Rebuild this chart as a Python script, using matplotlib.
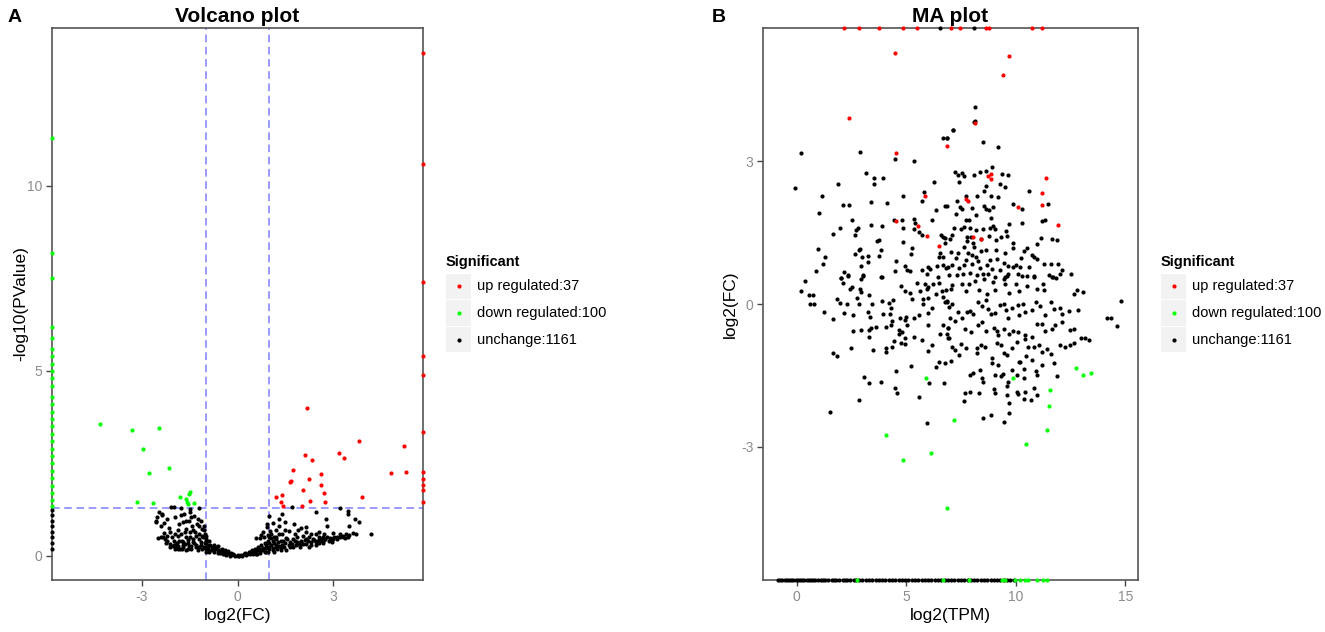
import numpy as np
import matplotlib
matplotlib.use('Agg')
import matplotlib.pyplot as plt
from matplotlib.patches import Rectangle

plt.rcParams['font.family'] = ['Liberation Sans', 'DejaVu Sans']
plt.rcParams['axes.unicode_minus'] = False

# ---- volcano plot data: (log2FC, -log10 PValue) ----
volcano_up = [(2.18, 4.0), (3.79, 3.12), (5.22, 2.98), (3.17, 2.79), (3.32, 2.65),
              (2.10, 2.74), (2.33, 2.58), (1.73, 2.32), (2.60, 2.22), (4.80, 2.25),
              (5.28, 2.27), (1.65, 2.01), (1.67, 2.03), (2.23, 2.09), (2.61, 1.91),
              (2.05, 1.77), (2.69, 1.69), (1.21, 1.60), (1.40, 1.64), (1.35, 1.46),
              (1.43, 1.35), (2.27, 1.48), (2.73, 1.46), (2.03, 1.36), (3.90, 1.59),
              (5.8, 13.6), (5.8, 10.6), (5.8, 7.4), (5.8, 5.4), (5.8, 4.9),
              (5.8, 3.35), (5.8, 2.27), (5.8, 2.08), (5.8, 1.92), (5.8, 1.78), (5.8, 1.46)]
volcano_down = [(-4.31, 3.57), (-3.29, 3.41), (-2.44, 3.45), (-2.96, 2.90), (-2.77, 2.23),
                (-2.15, 2.38), (-3.15, 1.46), (-2.65, 1.44), (-1.81, 1.59), (-1.52, 1.68),
                (-1.47, 1.72), (-1.60, 1.55), (-1.55, 1.41), (-1.35, 1.44), (-1.58, 1.45),
                (-5.8, 11.3), (-5.8, 8.2), (-5.8, 7.5), (-5.8, 6.2), (-5.8, 5.9), (-5.8, 5.6),
                (-5.8, 5.4), (-5.8, 5.2), (-5.8, 5.0), (-5.8, 4.8), (-5.8, 4.6), (-5.8, 4.3),
                (-5.8, 4.1), (-5.8, 3.9), (-5.8, 3.7), (-5.8, 3.5), (-5.8, 3.3), (-5.8, 3.1),
                (-5.8, 2.9), (-5.8, 2.7), (-5.8, 2.5), (-5.8, 2.3), (-5.8, 2.1), (-5.8, 1.9),
                (-5.8, 1.7), (-5.8, 1.5), (-5.8, 1.35)]
volcano_none = [(-2.07, 1.31), (-1.97, 1.31), (-1.76, 1.29), (-1.48, 1.27), (-1.21, 1.29),
                (-2.52, 1.04), (-2.35, 1.13), (-2.56, 0.93), (-2.21, 1.00), (-1.94, 1.04),
                (-1.76, 1.11), (-1.66, 1.13), (-1.50, 1.18), (-1.35, 1.09), (-1.83, 0.86),
                (-1.71, 0.91), (-1.52, 0.95), (-1.42, 0.82), (-1.27, 0.86), (-1.60, 0.73),
                (-1.34, 0.64), (-1.19, 0.82), (-1.10, 0.73), (-1.76, 0.59), (-1.48, 0.50),
                (-2.33, 0.50), (-2.28, 0.46), (-2.00, 0.41), (-1.83, 0.41), (-1.69, 0.39),
                (-1.55, 0.43), (-1.40, 0.37), (-1.21, 0.46), (-1.08, 0.50), (-1.86, 0.28),
                (-2.02, 0.28), (-1.92, 0.21), (-1.71, 0.25), (-1.52, 0.28), (-1.31, 0.23),
                (-1.14, 0.30), (-1.03, 0.59), (-0.98, 0.46), (-0.98, 0.34), (-0.93, 0.23),
                (-0.88, 0.12), (-0.77, 0.21), (-0.72, 0.10), (-0.61, 0.16), (-0.56, 0.07),
                (-0.46, 0.05), (-0.35, 0.03), (-0.25, 0.01), (-0.09, 0.0), (0.01, 0.0),
                (0.15, 0.01), (0.27, 0.03), (0.38, 0.05), (0.48, 0.06), (0.58, 0.10),
                (0.69, 0.14), (0.79, 0.16), (0.90, 0.21), (0.98, 0.25), (1.05, 0.30),
                (1.13, 0.34), (1.26, 0.37), (0.69, 0.48), (0.58, 0.48), (0.74, 0.57),
                (0.84, 0.50), (0.95, 0.57), (1.02, 0.68), (0.92, 0.77), (0.79, 0.66),
                (1.00, 1.09), (0.92, 0.86), (1.06, 0.48), (1.21, 0.52), (1.31, 0.59),
                (1.29, 1.00), (1.40, 1.13), (1.50, 0.93), (1.60, 0.68), (1.71, 1.31),
                (1.78, 0.86), (1.42, 0.41), (1.52, 0.48), (1.63, 0.39), (1.73, 0.46),
                (1.85, 0.50), (1.99, 0.41), (2.06, 0.55), (2.15, 0.66), (2.13, 0.79),
                (2.25, 0.50), (2.35, 0.46), (2.44, 1.20), (2.46, 0.59), (2.56, 0.50),
                (2.67, 0.52), (2.79, 0.82), (2.77, 1.00), (2.88, 0.48), (3.03, 0.50),
                (3.19, 1.29), (3.21, 0.50), (3.29, 0.55), (3.45, 1.13), (3.48, 0.82),
                (3.66, 1.01), (3.81, 0.91), (4.17, 0.60), (3.47, 1.22), (1.83, 0.30),
                (2.15, 0.32), (2.56, 0.34), (1.21, 0.25), (1.36, 0.21), (1.63, 0.23),
                (1.94, 0.23), (2.25, 0.25), (2.46, 0.30), (2.67, 0.34), (2.94, 0.37),
                (1.10, 0.16), (1.52, 0.16), (0.90, 0.12), (0.58, 0.05), (-2.54, 0.94),
                (-2.35, 1.10), (-2.49, 0.48), (-2.39, 0.52), (-2.10, 0.32), (-1.96, 0.20),
                (-0.90, 0.15), (-0.80, 0.25), (-0.70, 0.18), (-0.60, 0.08), (-0.50, 0.12),
                (-0.40, 0.06), (-0.30, 0.08), (-0.20, 0.03), (-0.10, 0.02), (0.05, 0.01),
                (0.10, 0.03), (0.20, 0.05), (0.30, 0.06), (0.40, 0.10), (0.50, 0.12),
                (0.60, 0.15), (0.70, 0.20), (0.80, 0.22), (0.90, 0.30), (1.00, 0.35),
                (1.10, 0.22), (1.20, 0.30), (1.30, 0.28), (1.40, 0.30), (1.50, 0.35),
                (1.60, 0.30), (1.70, 0.33), (1.80, 0.40), (1.90, 0.35), (2.00, 0.38),
                (2.10, 0.42), (2.20, 0.40), (2.30, 0.38), (2.40, 0.43), (2.50, 0.40),
                (2.60, 0.45), (2.70, 0.42), (2.80, 0.50), (3.00, 0.47), (3.10, 0.52),
                (3.30, 0.52), (3.40, 0.58), (3.50, 0.57), (3.60, 0.62), (3.70, 0.60),
                (-1.00, 0.40), (-1.05, 0.70), (-1.10, 0.55), (-1.15, 0.38), (-1.20, 0.25),
                (-1.30, 0.30), (-1.40, 0.45), (-1.45, 0.28), (-1.55, 0.35), (-1.60, 0.50),
                (-1.65, 0.32), (-1.75, 0.40), (-1.80, 0.20), (-1.85, 0.55), (-1.90, 0.35),
                (-2.00, 0.30), (-2.05, 0.50), (-2.10, 0.65), (-2.20, 0.40), (-2.30, 0.62),
                (-2.40, 0.80),
                (-1.00, 0.10), (-1.00, 0.20), (-0.95, 0.30), (-1.02, 0.35), (-0.97, 0.55),
                (-1.05, 0.80), (-0.90, 0.40), (-0.85, 0.30), (-0.80, 0.15), (-0.75, 0.30),
                (-0.70, 0.25), (-0.65, 0.20), (-0.60, 0.28), (-0.55, 0.15), (-0.50, 0.20),
                (-0.45, 0.12), (-0.40, 0.15), (-0.35, 0.10), (-0.30, 0.13), (-0.20, 0.08),
                (-0.15, 0.05), (0.00, 0.03), (0.25, 0.08), (0.35, 0.12), (0.45, 0.15),
                (0.55, 0.20), (0.65, 0.25), (0.75, 0.30), (0.85, 0.35), (0.95, 0.40),
                (1.00, 0.50), (1.05, 0.60), (1.00, 0.20), (0.95, 0.10), (1.10, 0.40),
                (1.15, 0.50), (1.20, 0.45), (1.25, 0.20), (1.35, 0.40), (1.45, 0.25),
                (1.55, 0.45), (1.65, 0.30), (1.75, 0.25), (1.85, 0.38), (1.95, 0.30),
                (2.05, 0.33), (2.15, 0.45), (2.30, 0.30), (2.45, 0.38), (2.55, 0.42),
                (2.65, 0.40), (2.75, 0.45), (2.85, 0.40), (2.95, 0.45), (3.10, 0.45),
                (3.20, 0.60), (3.35, 0.48), (3.45, 0.50), (1.80, 0.60), (1.90, 0.70),
                (2.00, 0.75), (2.30, 0.60), (2.55, 0.65), (2.70, 0.60), (3.00, 0.62),
                (1.40, 0.60), (1.50, 0.70), (1.30, 0.80), (1.20, 0.70), (1.10, 0.90),
                (1.35, 0.15), (1.15, 0.12), (0.85, 0.10), (0.70, 0.07), (0.60, 0.04),
                (-1.25, 0.15), (-1.35, 0.35), (-1.45, 0.20), (-1.55, 0.20), (-1.60, 0.15),
                (-1.70, 0.30), (-1.75, 0.20), (-1.85, 0.18), (-1.95, 0.30), (-2.10, 0.25),
                (-2.20, 0.55), (-2.25, 0.35), (-2.15, 0.75), (-1.95, 0.60), (-1.85, 0.70),
                (-1.65, 0.65), (-1.50, 0.65), (-1.40, 0.70), (-1.30, 0.55), (-1.20, 0.60),
                (-1.15, 0.95), (-1.25, 1.00), (-1.45, 1.05), (-1.60, 0.95), (-2.30, 0.90),
                (-2.45, 1.20), (-1.10, 0.20), (-1.05, 0.25),
                (-5.8, 1.25), (-5.8, 1.1), (-5.8, 0.95), (-5.8, 0.8), (-5.8, 0.65),
                (-5.8, 0.5), (-5.8, 0.35), (-5.8, 0.2)]

# ---- MA plot data: (log2 TPM, log2 FC) ----
ma_up = [(4.49, 5.27), (9.71, 5.22), (9.43, 4.81), (2.37, 3.90), (8.16, 3.80),
         (6.86, 3.32), (4.52, 3.17), (11.38, 2.64), (8.72, 2.69), (8.87, 2.74),
         (8.86, 2.62), (11.20, 2.34), (5.87, 2.28), (7.73, 2.20), (7.82, 2.17),
         (10.12, 2.03), (11.20, 2.07), (4.53, 1.75), (5.52, 1.64), (11.95, 1.65),
         (5.95, 1.43), (8.03, 1.40), (8.41, 1.36), (6.50, 1.22),
         (2.17, 5.8), (2.83, 5.8), (3.76, 5.8), (4.87, 5.8), (5.48, 5.8), (7.03, 5.8),
         (7.46, 5.8), (8.63, 5.8), (8.80, 5.8), (10.73, 5.8), (11.19, 5.8)]
ma_down = [(12.74, -1.34), (13.06, -1.49), (13.42, -1.46), (5.90, -1.55), (9.86, -1.55),
           (11.57, -1.80), (11.51, -2.15), (7.18, -2.44), (11.44, -2.64), (4.09, -2.76),
           (10.47, -2.94), (6.13, -3.13), (4.84, -3.28), (6.86, -4.29),
           (2.74, -5.8), (6.70, -5.8), (7.88, -5.8), (9.36, -5.8), (9.51, -5.8),
           (9.97, -5.8), (10.20, -5.8), (10.42, -5.8), (10.58, -5.8), (10.96, -5.8),
           (11.26, -5.8), (11.42, -5.8)]
ma_none = [
    # upper left part
    (0.20, 3.17), (2.91, 3.19), (4.47, 3.05), (5.37, 3.00), (6.70, 3.48), (6.85, 3.48),
    (3.17, 2.76), (3.55, 2.65), (3.94, 2.64), (3.53, 2.52), (1.89, 2.52), (-0.06, 2.43),
    (6.27, 2.57), (5.80, 2.35), (5.72, 2.17), (4.87, 2.28), (1.16, 2.26), (3.39, 2.15),
    (4.12, 2.13), (2.13, 2.08), (2.39, 2.08), (6.79, 2.05), (6.35, 1.98), (1.02, 1.91),
    (2.54, 1.77), (4.43, 1.77), (4.81, 1.77), (5.34, 1.79), (5.40, 1.70), (6.18, 1.77),
    (1.99, 1.59), (2.71, 1.56), (2.79, 1.59), (3.38, 1.65), (3.87, 1.63), (4.87, 1.60),
    (5.34, 1.57), (5.60, 1.51), (5.71, 1.45), (1.66, 1.48), (2.66, 1.44), (6.59, 1.44),
    (6.70, 1.40), (3.65, 1.33), (3.76, 1.35), (6.76, 1.29), (0.99, 1.15), (2.82, 1.13),
    (2.89, 1.15), (3.85, 1.14), (4.87, 1.30), (5.27, 1.18), (5.22, 1.06), (2.66, 1.05),
    (2.98, 0.99), (3.27, 1.00), (3.74, 1.00), (1.29, 0.99), (6.56, 1.08), (6.68, 0.99),
    (6.51, 0.98), (1.22, 0.85), (3.24, 0.89), (4.55, 0.90), (2.92, 0.80), (4.92, 0.80),
    (5.04, 0.71), (5.19, 0.69), (5.71, 0.71), (6.01, 0.77), (6.07, 0.73), (6.42, 0.80),
    (6.68, 0.82), (0.87, 0.70), (2.16, 0.68), (2.01, 0.55), (2.33, 0.60), (3.01, 0.60),
    (3.87, 0.57), (4.47, 0.69), (5.94, 0.62), (6.44, 0.57), (6.83, 0.75),
    (8.16, 4.15), (8.13, 3.84), (7.15, 3.66),
    # upper right part
    (7.14, 3.66), (8.11, 3.82), (6.87, 3.49), (8.51, 3.40), (9.18, 3.29), (7.21, 2.77),
    (7.35, 2.71), (7.56, 2.76), (7.64, 2.69), (8.08, 2.71), (8.36, 2.78), (8.66, 2.79),
    (8.90, 2.87), (9.38, 2.73), (9.65, 2.72), (7.43, 2.56), (9.30, 2.52), (9.53, 2.45),
    (8.65, 2.48), (8.54, 2.38), (8.25, 2.28), (7.72, 2.28), (8.89, 2.26), (9.18, 2.24),
    (10.62, 2.38), (7.32, 2.17), (6.85, 2.05), (7.47, 2.03), (7.53, 2.00), (8.02, 2.01),
    (8.54, 2.06), (8.66, 2.00), (8.95, 2.03), (8.78, 1.97), (9.88, 2.10), (10.30, 2.00),
    (11.48, 2.10), (7.25, 1.90), (8.17, 1.87), (7.73, 1.76), (7.85, 1.76), (8.87, 1.81),
    (9.71, 1.69), (10.27, 1.71), (11.20, 1.74), (11.35, 1.76), (7.19, 1.59), (7.52, 1.57),
    (7.63, 1.61), (7.93, 1.60), (8.17, 1.55), (8.49, 1.58), (8.83, 1.60), (8.97, 1.64),
    (9.06, 1.57), (9.57, 1.53), (7.09, 1.45), (7.78, 1.40), (7.95, 1.41), (8.42, 1.36),
    (8.77, 1.43), (9.12, 1.35), (9.33, 1.41), (9.61, 1.43), (11.17, 1.39), (11.65, 1.37),
    (11.87, 1.35), (6.77, 1.38), (6.99, 1.36), (7.78, 1.33), (8.05, 1.29), (8.11, 1.20),
    (9.88, 1.29), (10.96, 1.27), (7.05, 1.10), (7.37, 1.08), (7.63, 1.20), (7.82, 1.08),
    (8.17, 0.99), (8.42, 1.11), (8.64, 1.14), (9.09, 1.14), (9.51, 1.07), (9.89, 1.17),
    (10.38, 1.11), (10.53, 1.18), (10.73, 1.04), (10.85, 0.99), (10.97, 0.95), (7.26, 0.96),
    (7.74, 0.92), (8.01, 1.03), (8.28, 0.90), (8.84, 0.92), (9.16, 0.94), (9.47, 0.87),
    (10.26, 0.96), (11.28, 0.85), (11.61, 0.84), (11.95, 0.84), (6.90, 0.78), (7.09, 0.83),
    (7.41, 0.76), (7.65, 0.83), (7.99, 0.84), (8.35, 0.75), (8.68, 0.81), (8.92, 0.74),
    (9.26, 0.71), (9.64, 0.80), (9.89, 0.78), (10.02, 0.81), (10.21, 0.78), (10.62, 0.78),
    (12.10, 0.71), (6.97, 0.61), (7.31, 0.60), (7.58, 0.63), (7.90, 0.65), (8.25, 0.61),
    (8.49, 0.63), (8.74, 0.64), (9.06, 0.57), (9.50, 0.57), (9.66, 0.62), (10.09, 0.62),
    (10.28, 0.59), (10.49, 0.59), (10.85, 0.59), (11.52, 0.60), (11.69, 0.57), (12.01, 0.64),
    (12.51, 0.62),
    # lower left part
    (0.40, 0.49), (0.18, 0.27), (0.75, 0.19), (0.79, -0.01), (1.23, -0.17), (1.67, -0.32),
    (2.01, 0.55), (2.13, 0.45), (2.33, 0.59), (2.44, 0.31), (2.53, 0.36), (2.92, 0.52),
    (3.01, 0.59), (3.85, 0.57), (2.89, 0.31), (2.95, 0.26), (1.84, 0.11), (1.98, 0.03),
    (2.30, -0.01), (2.73, 0.13), (2.83, 0.00), (3.29, 0.18), (3.44, 0.01), (2.16, -0.18),
    (2.56, -0.24), (3.26, -0.17), (3.35, -0.28), (3.90, 0.06), (4.19, 0.03), (4.41, 0.09),
    (4.31, -0.08), (3.96, -0.20), (4.28, -0.20), (4.76, 0.38), (4.93, 0.28), (5.18, 0.24),
    (5.25, 0.11), (5.48, 0.45), (5.65, 0.27), (5.84, 0.42), (5.97, 0.35), (5.94, 0.31),
    (6.20, 0.43), (6.36, 0.22), (6.50, 0.45), (6.61, 0.27), (6.82, 0.29), (6.68, 0.14),
    (6.85, 0.05), (5.78, 0.11), (5.97, 0.13), (5.75, -0.01), (6.18, -0.08), (5.97, -0.19),
    (5.60, -0.23), (5.36, -0.29), (4.98, -0.27), (4.95, -0.34), (4.72, -0.29), (4.34, -0.35),
    (4.29, -0.45), (4.08, -0.49), (3.61, -0.49), (3.38, -0.51), (3.32, -0.54), (2.59, -0.56),
    (2.95, -0.55), (3.29, -0.70), (4.66, -0.55), (4.81, -0.59), (4.67, -0.64), (5.05, -0.45),
    (5.34, -0.69), (4.96, -0.72), (5.72, -0.75), (5.97, -0.45), (6.70, -0.44), (6.89, -0.50),
    (6.55, -0.62), (6.88, -0.62), (6.89, -0.72), (4.46, -0.78), (4.76, -0.81), (4.93, -0.85),
    (2.47, -0.92), (3.50, -0.97), (4.09, -0.92), (4.37, -0.90), (4.06, -1.01), (6.16, -0.87),
    (6.01, -0.99), (1.64, -1.03), (1.84, -1.09), (5.21, -1.31), (4.52, -1.41), (6.35, -1.33),
    (6.50, -1.22), (6.76, -1.23), (3.09, -1.53), (3.30, -1.66), (3.85, -1.64), (4.49, -1.77),
    (4.58, -1.87), (6.03, -1.65), (6.71, -1.66), (5.58, -1.95), (2.82, -2.02), (1.54, -2.26),
    (5.94, -2.50), (0.55, 0.19), (0.59, 0.00),
    # lower right part
    (6.85, 0.07), (7.05, 0.31), (7.11, 0.40), (7.53, 0.43), (7.72, 0.28), (7.85, 0.41),
    (8.14, 0.48), (8.30, 0.29), (8.57, 0.52), (8.70, 0.22), (8.98, 0.47), (9.06, 0.30),
    (9.45, 0.52), (9.51, 0.43), (9.59, 0.59), (9.67, 0.23), (10.00, 0.41), (10.15, 0.27),
    (10.50, 0.38), (10.85, 0.57), (10.96, 0.31), (11.23, 0.43), (11.28, 0.29), (11.67, 0.57),
    (11.84, 0.54), (12.66, 0.22), (12.80, 0.30), (13.05, 0.25), (14.81, 0.06), (6.77, 0.05),
    (6.93, -0.06), (7.11, -0.01), (7.38, -0.17), (7.53, -0.30), (7.78, -0.17), (7.91, -0.15),
    (8.06, -0.22), (8.26, 0.05), (8.48, -0.04), (8.66, 0.08), (8.75, -0.10), (8.86, -0.22),
    (9.06, -0.18), (9.28, -0.02), (9.48, 0.01), (9.55, -0.13), (9.64, -0.29), (9.85, -0.09),
    (10.09, -0.03), (10.15, -0.23), (10.35, 0.00), (10.43, -0.16), (10.76, -0.13), (10.91, 0.05),
    (11.09, -0.04), (11.34, -0.23), (11.62, 0.05), (11.73, -0.11), (12.02, -0.09), (12.10, -0.20),
    (12.42, -0.15), (12.83, -0.12), (14.16, -0.29), (14.34, -0.29), (14.60, -0.47), (7.00, -0.29),
    (7.23, -0.36), (6.90, -0.50), (7.69, -0.52), (7.96, -0.58), (8.28, -0.44), (8.48, -0.37),
    (8.66, -0.57), (8.99, -0.50), (9.16, -0.57), (9.21, -0.65), (9.48, -0.52), (9.70, -0.64),
    (9.86, -0.57), (10.09, -0.59), (10.40, -0.65), (10.43, -0.73), (10.76, -0.70), (10.96, -0.41),
    (11.22, -0.43), (11.34, -0.57), (11.64, -0.52), (11.79, -0.44), (12.13, -0.37), (12.48, -0.55),
    (12.68, -0.53), (12.98, -0.71), (13.16, -0.71), (13.35, -0.75), (6.93, -0.71), (7.08, -0.90),
    (7.23, -0.97), (7.50, -0.85), (7.73, -0.93), (7.41, -1.07), (7.05, -1.20), (8.22, -0.93),
    (8.42, -0.86), (8.21, -1.04), (8.60, -0.90), (8.90, -1.13), (9.13, -0.83), (9.33, -0.87),
    (9.48, -1.03), (9.59, -1.08), (9.82, -0.92), (10.05, -0.79), (10.15, -1.22), (10.46, -1.10),
    (10.55, -0.90), (10.76, -1.17), (10.85, -0.90), (11.04, -0.87), (11.19, -1.01), (11.42, -0.94),
    (11.61, -1.06), (11.73, -1.24), (12.04, -0.86), (12.25, -0.90), (12.48, -0.87), (12.68, -0.83),
    (7.91, -1.49), (8.05, -1.46), (8.38, -1.39), (8.48, -1.55), (8.52, -1.64), (8.90, -1.24),
    (9.03, -1.49), (9.21, -1.28), (9.33, -1.52), (9.43, -1.48), (9.64, -1.63), (9.61, -1.72),
    (9.85, -1.38), (10.05, -1.49), (10.20, -1.22), (10.37, -1.56), (10.37, -1.36), (10.93, -1.41),
    (10.96, -1.49), (11.19, -1.29), (10.81, -1.76), (11.89, -1.51), (7.69, -1.86), (7.91, -1.84),
    (8.33, -1.87), (7.64, -2.03), (8.99, -1.78), (9.06, -1.87), (9.59, -1.92), (10.05, -1.85),
    (10.08, -1.89), (10.40, -1.85), (10.36, -1.99), (10.70, -2.01), (10.95, -1.92), (9.68, -2.09),
    (9.70, -2.29), (8.52, -2.40), (8.86, -2.34), (9.48, -2.47),
    # points pinned to the top edge
    (6.54, 5.8), (8.11, 5.8)]
ma_none_floor = [-0.85, -0.75, -0.65, -0.55, -0.45, -0.35, -0.25, -0.15, -0.05, 0.05,
                 0.15, 0.25, 0.35, 0.45, 0.55, 0.65, 0.75, 0.85, 0.95, 1.1, 1.2, 1.3,
                 1.45, 1.6, 1.7, 1.8, 1.95, 2.1, 2.2, 2.3, 2.45, 2.6, 2.7, 2.85, 3.0,
                 3.15, 3.3, 3.45, 3.6, 3.75, 3.9, 4.05, 4.2, 4.35, 4.5, 4.65, 4.8, 4.95,
                 5.1, 5.25, 5.4, 5.55, 5.7, 5.85, 6.0, 6.15, 6.3, 6.45, 6.6, 6.75, 6.9,
                 7.05, 7.2, 7.35, 7.5, 7.65, 7.8, 7.95, 8.1, 8.25, 8.4, 8.55, 8.7, 8.85,
                 9.0, 9.15, 9.3, 9.45, 9.6, 9.75, 9.9]

legend_labels = ['up regulated:37', 'down regulated:100', 'unchange:1161']
point_colors = ['#ff0000', '#00ff00', '#000000']

W, H = 1325, 632
fig = plt.figure(figsize=(W / 100, H / 100), dpi=100)


def frac(x0, y0, x1, y1):
    return [x0 / W, 1 - y1 / H, (x1 - x0) / W, (y1 - y0) / H]


def style_axes(ax):
    for s in ax.spines.values():
        s.set_color('#555555')
        s.set_linewidth(1.2)
    ax.tick_params(direction='out', length=4, width=1, color='#444444',
                   labelcolor='#8c8c8c', labelsize=10, pad=3)


def scatter_pts(ax, pts, color):
    arr = np.array(pts)
    ax.scatter(arr[:, 0], arr[:, 1], s=9, c=color, linewidths=0, clip_on=False, zorder=3)


def draw_legend(x0, y0):
    fig.text(x0 / W, 1 - y0 / H, 'Significant', fontsize=10.5, fontweight='bold',
             ha='left', va='center')
    lax = fig.add_axes(frac(x0, y0 + 11, x0 + 25, y0 + 91))
    lax.set_xlim(0, 1)
    lax.set_ylim(3, 0)
    lax.axis('off')
    for i, (lab, col) in enumerate(zip(legend_labels, point_colors)):
        lax.add_patch(Rectangle((0, i + 0.03), 1, 0.94, color='#f2f2f2', lw=0))
        lax.scatter([0.5], [i + 0.5], s=9, c=col, linewidths=0)
        lax.text(1.25, i + 0.5, lab, fontsize=10.5, ha='left', va='center')


# ---------------- A: volcano plot ----------------
ax1 = fig.add_axes(frac(52, 28, 423, 580))
for pts, col in zip([volcano_none, volcano_down, volcano_up], point_colors[::-1]):
    scatter_pts(ax1, pts, col)
for v in (-1, 1):
    ax1.axvline(v, color='#7f7fff', lw=1.1, ls=(0, (5, 3)), zorder=2)
ax1.axhline(-np.log10(0.05), color='#7f7fff', lw=1.1, ls=(0, (5, 3)), zorder=2)
ax1.set_xlim(-5.8, 5.8)
ax1.set_ylim(-0.65, 14.27)
ax1.set_xticks([-3, 0, 3])
ax1.set_yticks([0, 5, 10])
style_axes(ax1)
ax1.set_title('Volcano plot', fontsize=15, fontweight='bold', pad=4)
ax1.set_xlabel('log2(FC)', fontsize=12.5)
ax1.set_ylabel('-log10(PValue)', fontsize=12.5)
ax1.xaxis.set_label_coords(0.5, -0.05)
ax1.yaxis.set_label_coords(-0.063, 0.5)
fig.text(8 / W, 1 - 17 / H, 'A', fontsize=14, fontweight='bold', va='center')
draw_legend(446, 262)

# ---------------- B: MA plot ----------------
ax2 = fig.add_axes(frac(763, 28, 1138, 580))
floor = [(x, -5.8) for x in ma_none_floor]
for pts, col in zip([ma_none + floor, ma_down, ma_up], point_colors[::-1]):
    scatter_pts(ax2, pts, col)
ax2.set_xlim(-1.54, 15.58)
ax2.set_ylim(-5.8, 5.8)
ax2.set_xticks([0, 5, 10, 15])
ax2.set_yticks([-3, 0, 3])
style_axes(ax2)
ax2.set_title('MA plot', fontsize=15, fontweight='bold', pad=4)
ax2.set_xlabel('log2(TPM)', fontsize=12.5)
ax2.set_ylabel('log2(FC)', fontsize=12.5)
ax2.xaxis.set_label_coords(0.5, -0.05)
ax2.yaxis.set_label_coords(-0.068, 0.5)
fig.text(712 / W, 1 - 17 / H, 'B', fontsize=14, fontweight='bold', va='center')
draw_legend(1161, 262)

fig.savefig('out.png', dpi=100)
